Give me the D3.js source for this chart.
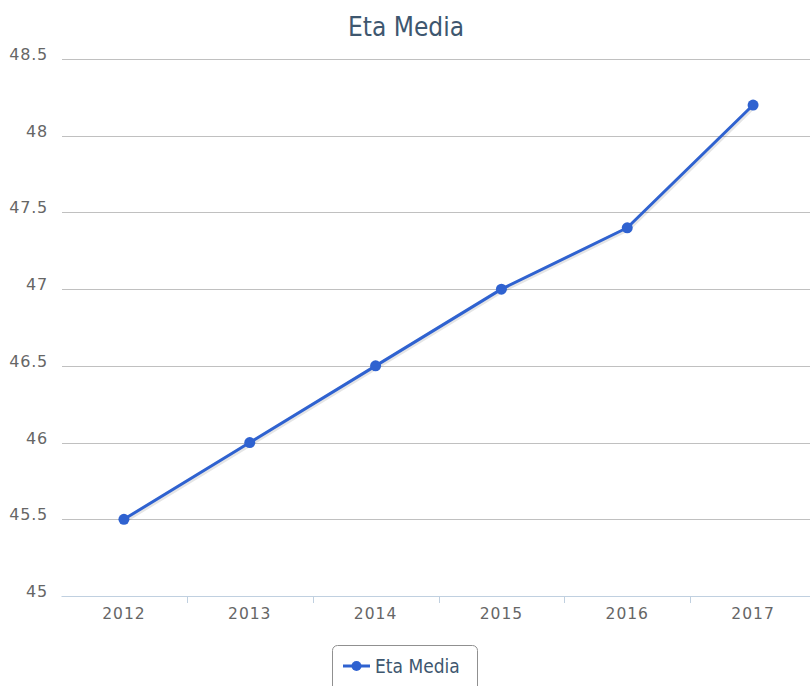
<!DOCTYPE html>
<html>
<head>
<meta charset="utf-8">
<script src="https://cdn.jsdelivr.net/npm/d3@7"></script>
<style>
  html, body { margin: 0; padding: 0; background: #fff; }
  svg { display: block; }
</style>
</head>
<body>
<div id="chart"></div>
<script>
// Data
const years = ["2012", "2013", "2014", "2015", "2016", "2017"];
const etaMedia = [45.5, 46.0, 46.5, 47.0, 47.4, 48.2];
const yTicks = [45, 45.5, 46, 46.5, 47, 47.5, 48, 48.5];
const seriesName = "Eta Media";

const W = 810, H = 686;
const plot = { left: 61, right: 816, top: 59, bottom: 596 };
const lineColor = "#2f62d0";
const labelFont = "'DejaVu Sans', sans-serif";
const narrowFont = "'DejaVu Sans Condensed', 'DejaVu Sans', sans-serif";

const svg = d3.select("#chart").append("svg")
  .attr("width", W)
  .attr("height", H);

const x = d3.scaleBand()
  .domain(years)
  .range([plot.left, plot.right]);

const y = d3.scaleLinear()
  .domain([45, 48.5])
  .range([plot.bottom, plot.top]);

// Title
svg.append("text")
  .attr("x", 406)
  .attr("y", 36)
  .attr("text-anchor", "middle")
  .style("font-family", narrowFont)
  .style("font-size", "26px")
  .style("fill", "#3e576f")
  .text("Eta Media");

// Gridlines
svg.append("g")
  .selectAll("line")
  .data(yTicks.filter(d => d !== 45))
  .enter()
  .append("line")
  .attr("x1", plot.left + 1)
  .attr("x2", plot.right)
  .attr("y1", d => Math.round(y(d)) + 0.5)
  .attr("y2", d => Math.round(y(d)) + 0.5)
  .style("stroke", "#c0c0c0")
  .style("stroke-width", 1);

// Y axis labels
svg.append("g")
  .selectAll("text")
  .data(yTicks)
  .enter()
  .append("text")
  .attr("x", 48)
  .attr("y", d => y(d) + 1)
  .attr("text-anchor", "end")
  .style("font-family", labelFont)
  .style("font-size", "16px")
  .style("letter-spacing", "0.8px")
  .style("fill", "#666")
  .text(d => d);

// X axis
const xAxis = svg.append("g")
  .attr("transform", `translate(0, ${plot.bottom})`)
  .call(d3.axisBottom(x).tickSize(0).tickPadding(12));
xAxis.select(".domain").style("stroke", "#c0d0e0");
xAxis.selectAll("text")
  .style("font-family", labelFont)
  .style("font-size", "15.5px")
  .style("letter-spacing", "1px")
  .style("fill", "#666");

// Ticks on category boundaries
svg.append("g")
  .selectAll("line")
  .data(years.slice(1))
  .enter()
  .append("line")
  .attr("x1", d => Math.round(x(d)) + 0.5)
  .attr("x2", d => Math.round(x(d)) + 0.5)
  .attr("y1", plot.bottom)
  .attr("y2", plot.bottom + 7)
  .style("stroke", "#c0d0e0");

// Series
const pts = years.map((yr, i) => ({ yr, v: etaMedia[i] }));
const line = d3.line()
  .x(d => x(d.yr) + x.bandwidth() / 2)
  .y(d => y(d.v));

// soft shadow
svg.append("path")
  .datum(pts)
  .attr("d", line)
  .attr("transform", "translate(1,1)")
  .style("fill", "none")
  .style("stroke", "#000")
  .style("stroke-opacity", 0.1)
  .style("stroke-width", 5);

svg.append("path")
  .datum(pts)
  .attr("d", line)
  .style("fill", "none")
  .style("stroke", lineColor)
  .style("stroke-width", 3)
  .style("stroke-linejoin", "round");

svg.append("g")
  .selectAll("circle")
  .data(pts)
  .enter()
  .append("circle")
  .attr("cx", d => x(d.yr) + x.bandwidth() / 2)
  .attr("cy", d => y(d.v))
  .attr("r", 5.5)
  .style("fill", lineColor);

// Legend
const lg = svg.append("g").attr("transform", "translate(332, 645)");
lg.append("rect")
  .attr("x", 0.5)
  .attr("y", 0.5)
  .attr("width", 145)
  .attr("height", 50)
  .attr("rx", 5)
  .style("fill", "#fff")
  .style("stroke", "#909090");
lg.append("line")
  .attr("x1", 11).attr("x2", 38)
  .attr("y1", 21).attr("y2", 21)
  .style("stroke", lineColor)
  .style("stroke-width", 3);
lg.append("circle")
  .attr("cx", 24.5).attr("cy", 21).attr("r", 5)
  .style("fill", lineColor);
lg.append("text")
  .attr("x", 43)
  .attr("y", 28)
  .style("font-family", narrowFont)
  .style("font-size", "19px")
  .style("fill", "#3e576f")
  .text(seriesName);
</script>
</body>
</html>
